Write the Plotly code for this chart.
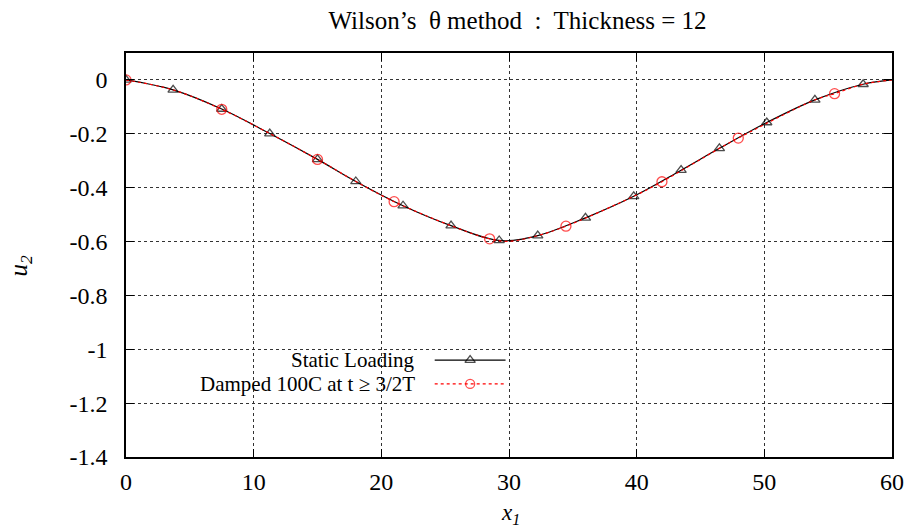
import plotly.graph_objects as go

# Vertical displacement u2 along x1 (Wilson's theta method, thickness 12)
static_x = [0, 3.69, 7.5, 11.26, 15.0, 18.0, 21.7, 25.46, 29.23, 32.25,
            35.99, 39.77, 43.48, 46.48, 50.19, 53.96, 57.74, 60]
static_y = [0, -0.037, -0.108, -0.199, -0.295, -0.377, -0.467, -0.541, -0.596,
            -0.578, -0.512, -0.432, -0.335, -0.254, -0.158, -0.074, -0.016, 0]
static_marked = [True] * 17 + [False]

# Damped response: marked samples plus the traced curve between them
damped_x = [0, 3.69, 7.5, 11.26, 15.0, 18.0, 21.0, 25.46, 28.48, 30.0, 32.25,
            34.46, 39.77, 41.98, 46.48, 47.96, 53.96, 55.5, 57.74, 60]
damped_y = [0, -0.037, -0.109, -0.199, -0.295, -0.377, -0.452, -0.541, -0.590,
            -0.599, -0.578, -0.543, -0.432, -0.378, -0.254, -0.216, -0.074,
            -0.051, -0.016, 0]
damped_marked = [True, False, True, False, True, False, True, False, True, False,
                 False, True, False, True, False, True, False, True, False, False]

x_ticks = [0, 10, 20, 30, 40, 50, 60]
y_ticks = [0, -0.2, -0.4, -0.6, -0.8, -1, -1.2, -1.4]
y_tick_text = ["0", "-0.2", "-0.4", "-0.6", "-0.8", "-1", "-1.2", "-1.4"]

series_names = ["Static Loading", "Damped 100C at t \u2265 3/2T"]

FONT = "Liberation Serif"
MS = 9

fig = go.Figure()

fig.add_trace(go.Scatter(
    x=static_x, y=static_y, mode="lines+markers",
    line=dict(color="black", width=1.2, shape="spline", smoothing=1.0),
    marker=dict(symbol="triangle-up-open", color="black",
                size=[MS if m else 0 for m in static_marked],
                line=dict(width=1.3, color="black")),
    showlegend=False, name=series_names[0]))

fig.add_trace(go.Scatter(
    x=damped_x, y=damped_y, mode="lines+markers",
    line=dict(color="#ff0000", width=1.2, dash="dot", shape="spline", smoothing=1.0),
    marker=dict(symbol="circle-open", color="#ff0000",
                size=[MS + 1 if m else 0 for m in damped_marked],
                line=dict(width=1.3, color="#ff0000")),
    showlegend=False, name=series_names[1]))

# Key: text on the left, sample line with marker on the right (overlay axes 0..1)
key_rows = [0.240, 0.181]
key_x0, key_x1 = 0.403, 0.4955
key_text_right = 0.380
key_styles = [
    dict(line=dict(color="black", width=1.2),
         marker=dict(symbol="triangle-up-open", color="black", line=dict(width=1.3, color="black"))),
    dict(line=dict(color="#ff0000", width=1.2, dash="dot"),
         marker=dict(symbol="circle-open", color="#ff0000", line=dict(width=1.3, color="#ff0000"))),
]
for row_y, style, name in zip(key_rows, key_styles, series_names):
    mid = (key_x0 + key_x1) / 2
    mk = dict(style["marker"])
    mk["size"] = [0, MS, 0]
    fig.add_trace(go.Scatter(
        x=[key_x0, mid, key_x1], y=[row_y] * 3, mode="lines+markers",
        line=style["line"], marker=mk, xaxis="x2", yaxis="y2",
        showlegend=False, hoverinfo="skip"))
    fig.add_annotation(
        x=key_text_right, y=row_y, xref="paper", yref="paper",
        xanchor="right", yanchor="middle", showarrow=False,
        text=name, font=dict(family=FONT, size=21, color="black"))

# Axis titles
fig.add_annotation(x=-0.138, y=0.475, xref="paper", yref="paper",
                   text="<i>u</i><sub><i>2</i></sub>", textangle=-90,
                   showarrow=False, xanchor="center", yanchor="middle",
                   font=dict(family=FONT, size=25, color="black"))
fig.add_annotation(x=0.502, y=-0.142, xref="paper", yref="paper",
                   text="<i>x</i><sub><i>1</i></sub>",
                   showarrow=False, xanchor="center", yanchor="middle",
                   font=dict(family=FONT, size=23, color="black"))

axis_common = dict(
    showline=True, linecolor="black", linewidth=1.5, mirror="ticks",
    ticks="inside", ticklen=8, tickwidth=1.2, tickcolor="black",
    showgrid=True, gridcolor="#333333", gridwidth=1, griddash="dot",
    zeroline=False,
    tickfont=dict(family=FONT, size=24, color="black"),
)

fig.update_layout(
    width=916, height=527,
    margin=dict(l=126, r=21, t=53, b=70),
    paper_bgcolor="white", plot_bgcolor="white",
    title=dict(text="Wilson\u2019s  \u03b8 method  :  Thickness = 12",
               x=0.565, xanchor="center", y=0.962, yanchor="middle",
               font=dict(family=FONT, size=25, color="black")),
    xaxis=dict(range=[0, 60], tickvals=x_ticks, ticklabelstandoff=2, **axis_common),
    yaxis=dict(range=[-1.4, 0.1], tickvals=y_ticks, ticktext=y_tick_text,
               ticklabelstandoff=12, **axis_common),
    xaxis2=dict(range=[0, 1], overlaying="x", visible=False, fixedrange=True),
    yaxis2=dict(range=[0, 1], overlaying="y", visible=False, fixedrange=True),
    showlegend=False,
)

fig.write_html("out.html")
